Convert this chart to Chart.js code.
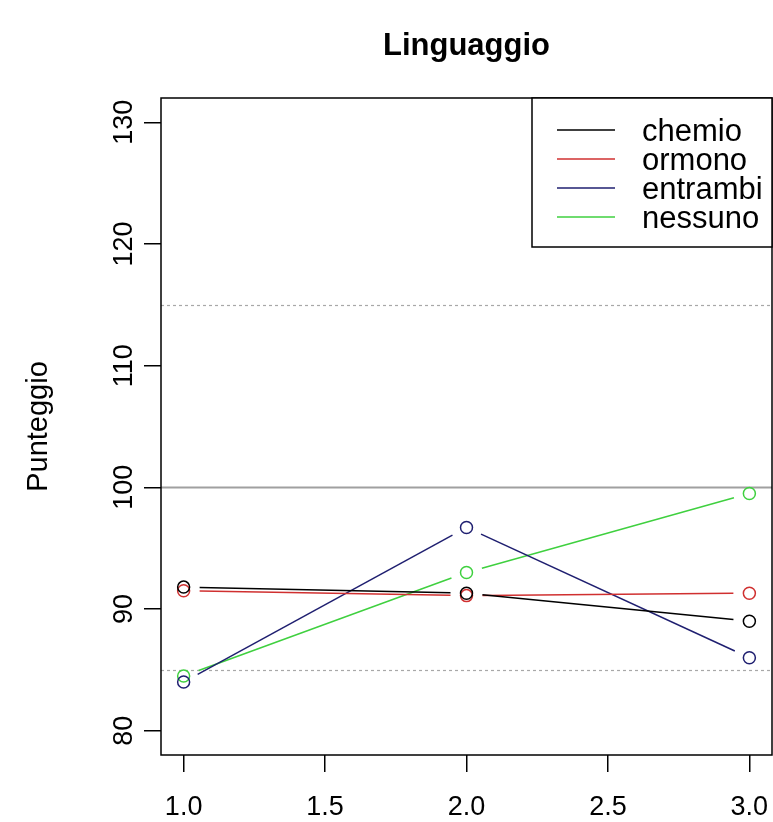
<!DOCTYPE html>
<html><head><meta charset="utf-8">
<script src="https://cdn.jsdelivr.net/npm/chart.js@4"></script>
<style>html,body{margin:0;padding:0;background:#fff;overflow:hidden}canvas{display:block}</style>
</head><body>
<canvas id="c" width="773" height="822"></canvas>
<script>
// ---- data ----
const chartTitle = 'Linguaggio';
const yAxisTitle = 'Punteggio';
const timePoints = [1, 2, 3];
const seriesNames = ['chemio', 'ormono', 'entrambi', 'nessuno'];
const chemio = [91.8, 91.3, 89.0];
const ormono = [91.5, 91.1, 91.3];
const entrambi = [84.0, 96.7, 86.0];
const nessuno = [84.5, 93.0, 99.5];
const xTicks = [1.0, 1.5, 2.0, 2.5, 3.0];
const yTicks = [80, 90, 100, 110, 120, 130];
const solidRefLines = [100];
const dottedRefLines = [85, 115];
const xRange = [0.92, 3.08];
const yRange = [78, 132];

// ---- styles ----
const seriesColors = ['#000000', '#d03030', '#1f1f70', '#3fd03f'];
const FONT = "'Liberation Sans', Arial, sans-serif";
const GAP = 16;

const seriesValues = [chemio, ormono, entrambi, nessuno];
const datasets = seriesNames.map((name, i) => ({
  label: name,
  data: timePoints.map((t, j) => ({x: t, y: seriesValues[i][j]})),
  borderColor: seriesColors[i],
  backgroundColor: 'rgba(0,0,0,0)',
  borderWidth: 1.5,
  pointRadius: 6,
  pointBorderWidth: 1.5,
  pointBorderColor: seriesColors[i],
  pointBackgroundColor: 'rgba(0,0,0,0)',
  tension: 0,
  fill: false,
  segment: {
    borderDash: ctx => {
      const L = Math.hypot(ctx.p1.x - ctx.p0.x, ctx.p1.y - ctx.p0.y);
      return [0, GAP, Math.max(L - 2 * GAP, 0), GAP + 1000];
    }
  }
}));

const refLinesPlugin = {
  id: 'refLines',
  beforeDatasetsDraw(chart) {
    const {ctx, chartArea: a, scales: {y}} = chart;
    ctx.save();
    ctx.beginPath(); ctx.rect(a.left, a.top, a.right - a.left, a.bottom - a.top); ctx.clip();
    ctx.strokeStyle = '#a0a0a0'; ctx.lineWidth = 2; ctx.setLineDash([]);
    solidRefLines.forEach(v => { const p = Math.round(y.getPixelForValue(v)) + 0.5; ctx.beginPath(); ctx.moveTo(a.left, p); ctx.lineTo(a.right, p); ctx.stroke(); });
    ctx.strokeStyle = '#a8a8a8'; ctx.lineWidth = 1.2; ctx.setLineDash([3, 3]);
    dottedRefLines.forEach(v => { const p = Math.round(y.getPixelForValue(v)) + 0.5; ctx.beginPath(); ctx.moveTo(a.left, p); ctx.lineTo(a.right, p); ctx.stroke(); });
    ctx.restore();
  }
};

const framePlugin = {
  id: 'frame',
  afterDraw(chart) {
    const {ctx, chartArea: a} = chart;
    ctx.save();
    ctx.strokeStyle = '#000'; ctx.lineWidth = 1.5; ctx.setLineDash([]);
    ctx.strokeRect(a.left, a.top, a.right - a.left, a.bottom - a.top);
    // title
    ctx.fillStyle = '#000';
    ctx.font = "bold 31px " + FONT;
    ctx.textAlign = 'center'; ctx.textBaseline = 'middle';
    ctx.fillText(chartTitle, (a.left + a.right) / 2, 46);
    // legend
    const lw = 240, lh = 149;
    const lx = a.right - lw, ly = a.top;
    ctx.fillStyle = '#fff';
    ctx.fillRect(lx, ly, lw, lh);
    ctx.strokeStyle = '#000'; ctx.lineWidth = 1.5;
    ctx.strokeRect(lx, ly, lw, lh);
    ctx.font = "31px " + FONT;
    ctx.textAlign = 'left'; ctx.textBaseline = 'middle';
    chart.data.datasets.forEach((ds, i) => {
      const ry = ly + 32 + i * 29;
      ctx.strokeStyle = ds.borderColor; ctx.lineWidth = 1.5;
      ctx.beginPath(); ctx.moveTo(lx + 25, ry); ctx.lineTo(lx + 83, ry); ctx.stroke();
      ctx.fillStyle = '#000';
      ctx.fillText(ds.label, lx + 110, ry + 2);
    });
    ctx.restore();
  }
};

new Chart(document.getElementById('c'), {
  type: 'line',
  data: {datasets},
  options: {
    responsive: false,
    animation: false,
    layout: {autoPadding: false, padding: {top: 98, right: 1, left: 0, bottom: 0}},
    plugins: {legend: {display: false}, title: {display: false}, tooltip: {enabled: false}},
    scales: {
      x: {
        type: 'linear', min: xRange[0], max: xRange[1],
        afterBuildTicks: s => { s.ticks = xTicks.map(v => ({value: v})); },
        afterFit: s => { s.height = 67; s.paddingLeft = 0; s.paddingRight = 0; },
        grid: {display: true, drawOnChartArea: false, drawTicks: true, tickLength: 17, color: '#000', lineWidth: 1.5},
        border: {display: false},
        ticks: {color: '#000', font: {family: FONT, size: 27}, padding: 19, maxRotation: 0, autoSkip: false,
          callback: v => Number(v).toFixed(1)}
      },
      y: {
        type: 'linear', min: yRange[0], max: yRange[1],
        afterBuildTicks: s => { s.ticks = yTicks.map(v => ({value: v})); },
        afterFit: s => { s.width = 161; s.paddingTop = 0; s.paddingBottom = 0; },
        grid: {display: true, drawOnChartArea: false, drawTicks: true, tickLength: 17, color: '#000', lineWidth: 1.5},
        border: {display: false},
        title: {display: true, text: yAxisTitle, color: '#000', font: {family: FONT, size: 29}, padding: {top: 22, bottom: 0}},
        ticks: {color: '#000', font: {family: FONT, size: 27}, padding: -3, minRotation: 90, maxRotation: 90, crossAlign: 'center', autoSkip: false}
      }
    }
  },
  plugins: [refLinesPlugin, framePlugin]
});
</script>
</body></html>
